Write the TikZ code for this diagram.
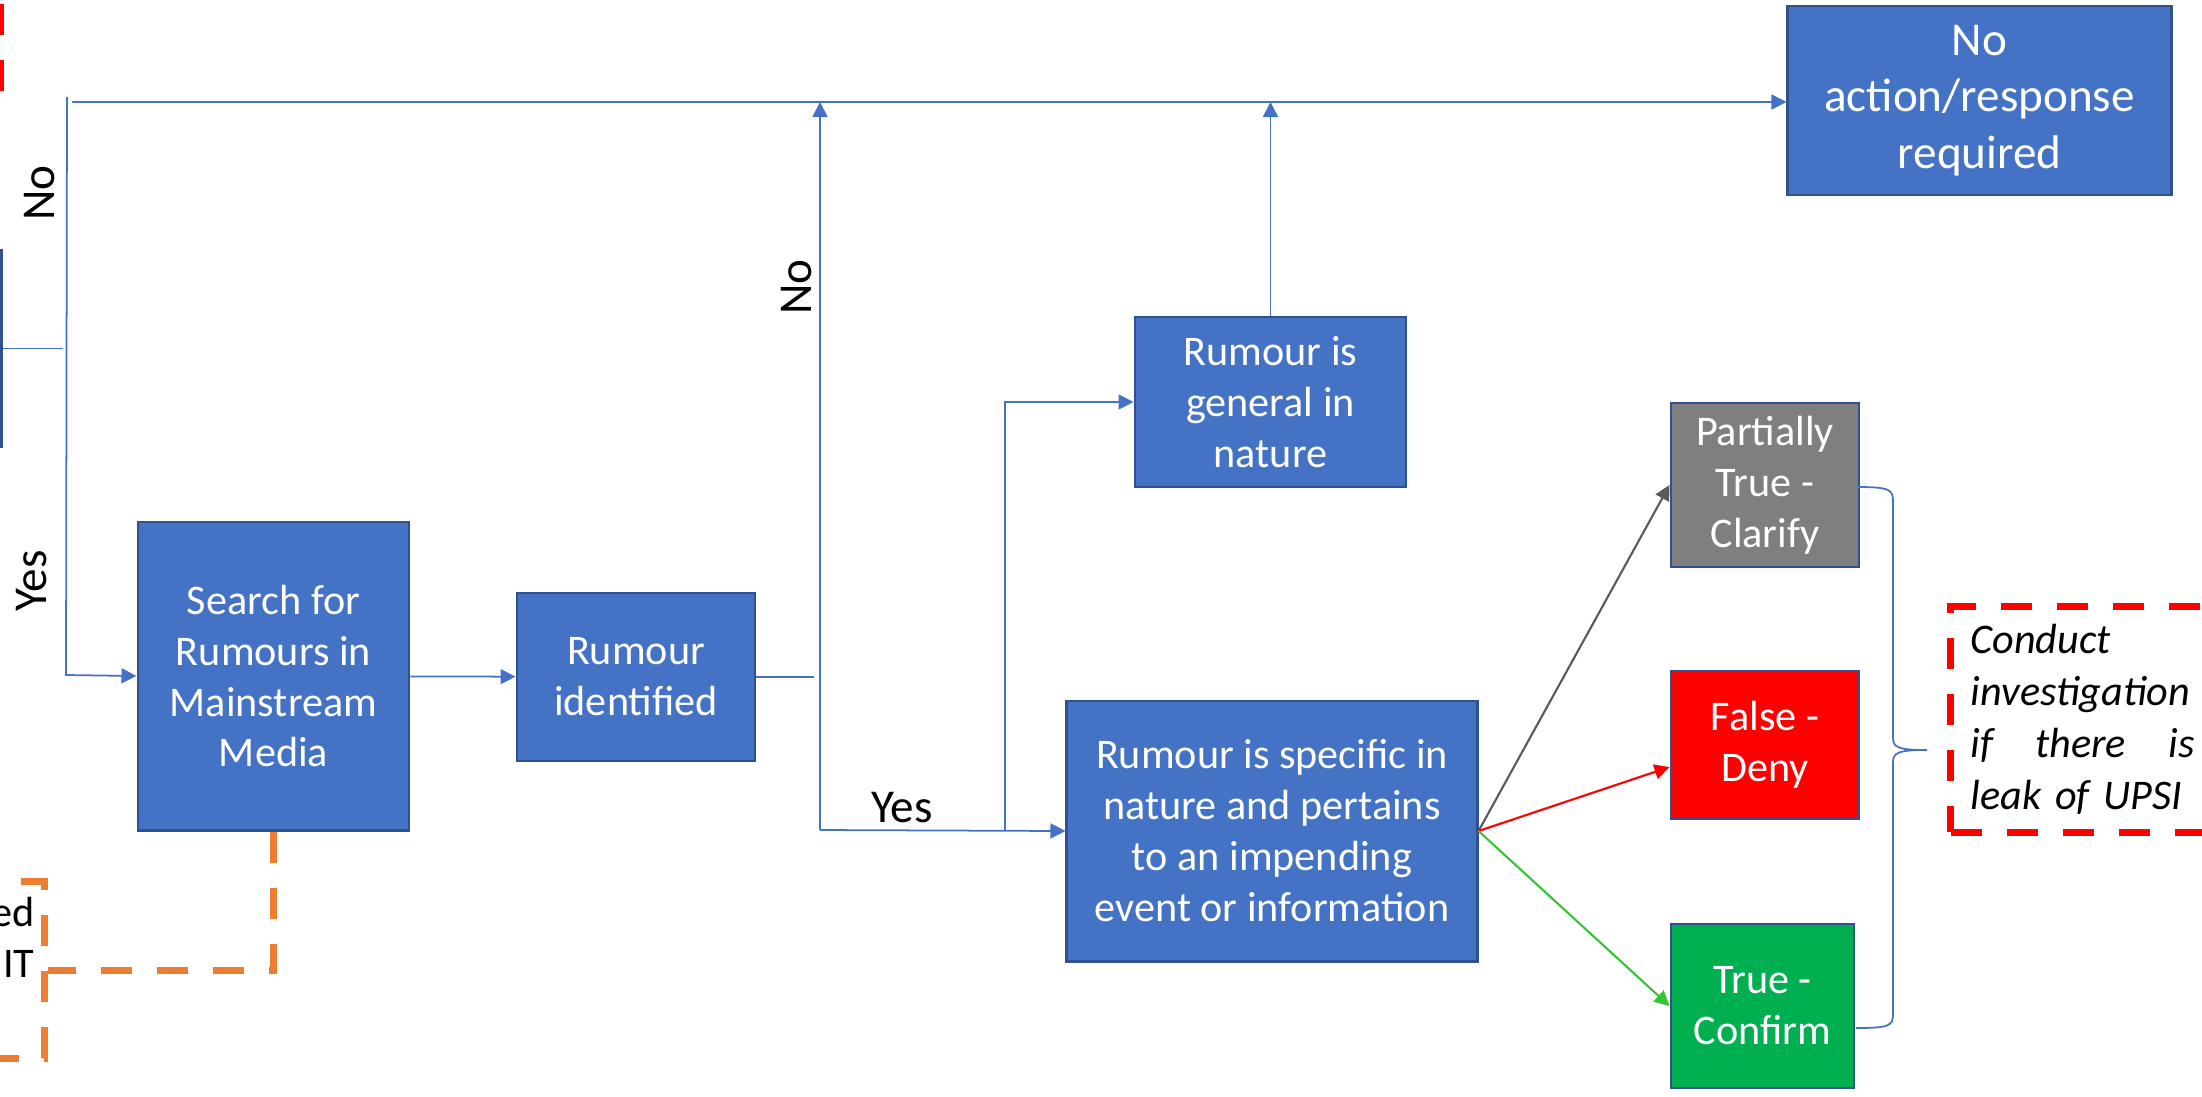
\documentclass[tikz,border=0pt]{standalone}
\usepackage{fontspec}
\setmainfont{Carlito}
\usetikzlibrary{arrows.meta}
\definecolor{boxblue}{HTML}{4472C4}
\definecolor{boxedge}{HTML}{2F528F}
\definecolor{clarifygray}{HTML}{7F7F7F}
\definecolor{confirmgreen}{HTML}{00B050}
\definecolor{arrgray}{HTML}{595959}
\definecolor{arrgreen}{HTML}{33C633}
\definecolor{alertorange}{HTML}{ED7D31}

\begin{document}
\begin{tikzpicture}[x=0.01cm, y=-0.01cm,
    box/.style={rectangle, draw=boxedge, line width=0.8pt, fill=boxblue, text=white, align=center, inner sep=0pt, font=\fontsize{12}{14.5}\selectfont},
    link/.style={draw=boxblue, line width=0.5pt},
    arrow/.style={link, -{Triangle[length=0.15cm, width=0.15cm]}},
    branch/.style={line width=0.6pt, -{Triangle[length=0.15cm, width=0.15cm]}},
    tag/.style={font=\fontsize{13.4}{16}\selectfont},
    dashbox/.style={rectangle, line width=2pt, dash pattern=on 0.31cm off 0.25cm}]
    \useasboundingbox (0,0) rectangle (2202,1096);
    \clip (0,0) rectangle (2202,1096);

    \node[draw=red, dashbox, minimum width=2cm, minimum height=2cm, anchor=south east] (note) at (4,119) {};
    \node[box, minimum width=2cm, minimum height=1.97cm, anchor=east] (check) at (3,348.5) {};
    \node[box, minimum width=3.83cm, minimum height=1.89cm, font=\fontsize{13.4}{16}\selectfont] (noact) at (1979.5,100.5) {No\\action/response\\required};
    \node[box, minimum width=2.71cm, minimum height=3.08cm] (search) at (273.5,676) {Search for\\Rumours in\\Mainstream\\Media};
    \node[box, minimum width=2.38cm, minimum height=1.68cm] (ident) at (636,677) {Rumour\\identified};
    \node[box, minimum width=2.71cm, minimum height=1.70cm] (general) at (1270.5,402) {Rumour is\\general in\\nature};
    \node[box, minimum width=4.10cm, minimum height=2.60cm] (specific) at (1272,831) {Rumour is specific in\\nature and pertains\\to an impending\\event or information};
    \node[box, fill=clarifygray, minimum width=1.88cm, minimum height=1.64cm] (clarify) at (1765,485) {Partially\\True -\\Clarify};
    \node[box, fill=red, minimum width=1.88cm, minimum height=1.48cm] (deny) at (1765,745) {False -\\Deny};
    \node[box, fill=confirmgreen, minimum width=1.83cm, minimum height=1.64cm] (confirm) at (1762.5,1006) {True -\\Confirm};
    \node[draw=red, dashbox, anchor=west, minimum height=2.25cm, inner xsep=0.2cm, text width=2.24cm, align=left, font=\itshape\fontsize{12}{14.8}\selectfont] (upsi) at (1947,719.5) {Conduct\\investigation\\if\hfill there\hfill is\\leak of UPSI};
    \node[draw=alertorange, dashbox, anchor=east, minimum height=1.76cm, inner xsep=0.1cm, text width=2.6cm, align=right, font=\fontsize{12}{14.5}\selectfont] (alert) at (48,970) {ed\\IT\\\strut};

    \node[tag, rotate=90] (nol) at (40,193) {No};
    \node[tag, rotate=90] (yesl) at (32,581) {Yes};
    \node[tag, rotate=90] (nom) at (797,287) {No};
    \node[tag] (yesm) at (902,808) {Yes};

    \coordinate (lbus) at (63,348.5);
    \coordinate (ltop) at (67,97);
    \coordinate (lyes) at (66,675);
    \coordinate (toprun) at (72,102);
    \coordinate (midend) at (814,677);
    \coordinate (myes) at (820,830);
    \coordinate (gsplit) at (1005,830);
    \coordinate (brtop) at (1858,487);
    \coordinate (brtip) at (1927,750);
    \coordinate (brbot) at (1856,1028);

    \draw[link] (check.east) -- (lbus);
    \draw[arrow] (ltop) -- (lyes) -- (search.west);
    \draw[arrow] (toprun) -- (toprun -| noact.west);
    \draw[arrow] (search) -- (ident);
    \draw[link] (ident) -- (midend);
    \draw[arrow] (myes) -- (myes |- toprun);
    \draw[arrow] (myes) -- (specific.west);
    \draw[arrow] (gsplit) |- (general.west);
    \draw[arrow] (general.north) -- (general.north |- toprun);

    \draw[branch, arrgray] (specific.east) -- (clarify.west);
    \draw[branch, red] (specific.east) -- ([yshift=-0.22cm]deny.west);
    \draw[branch, arrgreen] (specific.east) -- (confirm.west);

    % brace
    \draw[link] (brtop) .. controls (1891,487) and (1893,490) .. (1893,502) -- (1893,738)
        .. controls (1893,748) and (1900,750) .. (brtip)
        .. controls (1900,750) and (1893,752) .. (1893,762) -- (1893,1014)
        .. controls (1893,1026) and (1889,1028) .. (brbot);
    \draw[draw=alertorange, dashbox] (search.south) |- (alert.east);
\end{tikzpicture}
\end{document}
